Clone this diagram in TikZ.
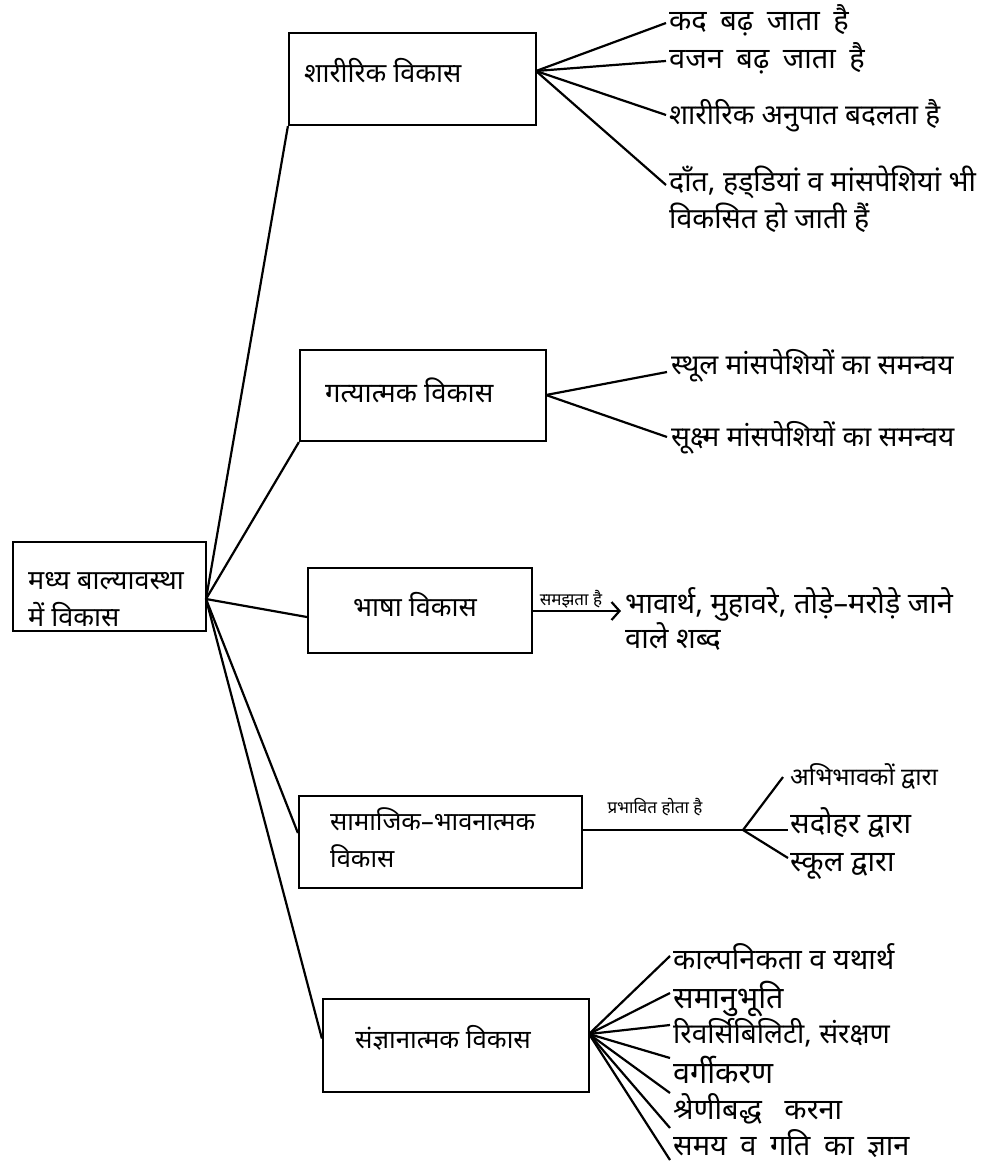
\documentclass[tikz,border=0pt]{standalone}
\usepackage{fontspec}
\newfontfamily\hindi[Script=Devanagari]{Noto Sans}
\usetikzlibrary{arrows.meta}
\newcommand\hsz[1]{\fontsize{#1}{#1}\selectfont}
\newcommand\xs{\hspace{6pt}}
\tikzset{
  box/.style={draw, line width=2.2pt, inner sep=0pt},
  conn/.style={line width=2.2pt},
  lbl/.style={font=\hindi\hsz{#1}, inner sep=0pt, anchor=west, text depth=0pt, text height={\the\dimexpr #1pt*68/100\relax}},
  lbl/.default=29,
  lbltwo/.style={inner sep=0pt, anchor=west, align=left},
}
\begin{document}
\begin{tikzpicture}[x=1pt,y=-1pt]
\useasboundingbox[fill=white] (0,0) rectangle (982,1165);

% boxes
\node[box, minimum width=193pt, minimum height=89pt] (root) at (109.5,586.5) {};
\node[box, minimum width=247pt, minimum height=92pt] (b1) at (412.5,79) {};
\node[box, minimum width=246pt, minimum height=91pt] (b2) at (423,395.5) {};
\node[box, minimum width=224pt, minimum height=85pt] (b3) at (420,610.5) {};
\node[box, minimum width=283pt, minimum height=92pt] (b4) at (440.5,842) {};
\node[box, minimum width=266pt, minimum height=93pt] (b5) at (456,1045.5) {};

% box texts
\node[lbltwo, font=\hindi\fontsize{27}{37}\selectfont] (troot) at (28,600) {मध्य बाल्यावस्था\\में विकास};
\node[lbl=27] (t1) at (304,73) {शारीरिक विकास};
\node[lbl=27.5] (t2) at (325,393) {गत्यात्मक विकास};
\node[lbl=27, anchor=center] (t3) at (415,607) {भाषा विकास};
\node[lbltwo, font=\hindi\fontsize{25.5}{37}\selectfont] (t4) at (330,837.5) {सामाजिक–भावनात्मक\\विकास};
\node[lbl=25.8, anchor=center] (t5) at (443,1040) {संज्ञानात्मक विकास};

% root connectors
\coordinate (rc) at (206,599);
\draw[conn] (rc) -- (b1.south west);
\draw[conn] (rc) -- (b2.south west);
\draw[conn] (rc) -- ([yshift=-6.5pt]b3.west);
\draw[conn] (rc) -- ([yshift=9pt]b4.west);
\draw[conn] (rc) -- ([yshift=7pt]b5.west);

% physical development
\coordinate (f1) at (536,71);
\coordinate (e11) at (666,23);
\coordinate (e12) at (666,61);
\coordinate (e13) at (666,115);
\coordinate (e14) at (666,185);
\node[lbl] (l11) at (669,21) {कद \xs बढ़ \xs जाता \xs है};
\node[lbl] (l12) at (669,59) {वजन \xs बढ़ \xs जाता \xs है};
\node[lbl=28] (l13) at (669,115) {शारीरिक अनुपात बदलता है};
\node[lbltwo, font=\hindi\fontsize{28.5}{37}\selectfont] (l14) at (669,199) {दाँत, हड्^^^^200cडियां व मांसपेशियां भी\\विकसित हो जाती हैं};
\foreach \e in {e11,e12,e13,e14} \draw[conn] (f1) -- (\e);

% motor development
\coordinate (f2) at (546,395);
\coordinate (e21) at (667,372);
\coordinate (e22) at (667,437);
\node[lbl=28] (l21) at (671,365) {स्थूल मांसपेशियों का समन्वय};
\node[lbl=28] (l22) at (671,437) {सूक्ष्म मांसपेशियों का समन्वय};
\draw[conn] (f2) -- (e21);
\draw[conn] (f2) -- (e22);

% language development
\node[lbltwo, font=\hindi\fontsize{29}{33}\selectfont] (l31) at (625,619) {भावार्थ, मुहावरे, तोड़े–मरोड़े जाने\\वाले शब्द};
\coordinate (a3) at (621,611);
\draw[conn, -{Straight Barb[length=8pt,width=18pt,line width=2.2pt]}] ([yshift=-0.5pt]b3.east) -- (a3);
\node[lbl=17, anchor=center] (s3) at (571,600) {समझता है};

% social-emotional development
\coordinate (f4) at (743,830);
\draw[conn] ([yshift=12pt]b4.east) -- (f4);
\node[lbl=17, anchor=center] (s4) at (655,808) {प्रभावित होता है};
\coordinate (e41) at (783,777);
\coordinate (e42) at (788,830);
\coordinate (e43) at (788,858);
\node[lbl=24.5] (l41) at (790,777) {अभिभावकों द्वारा};
\node[lbl] (l42) at (790,824) {सदोहर द्वारा};
\node[lbl] (l43) at (790,862) {स्कूल द्वारा};
\foreach \e in {e41,e42,e43} \draw[conn] (f4) -- (\e);

% cognitive development
\coordinate (f5) at (589,1034);
\coordinate (e51) at (670,956);
\coordinate (e52) at (670,993);
\coordinate (e53) at (670,1025);
\coordinate (e54) at (670,1058);
\coordinate (e55) at (670,1093);
\coordinate (e56) at (670,1128);
\coordinate (e57) at (670,1160);
\node[lbl] (l51) at (673,960) {काल्पनिकता व यथार्थ};
\node[lbl=30.5] (l52) at (673,998) {समानुभूति};
\node[lbl=28] (l53) at (673,1034) {रिवर्सिबिलिटी, संरक्षण};
\node[lbl=30.5] (l54) at (673,1073) {वर्गीकरण};
\node[lbl] (l55) at (673,1110) {श्रेणीबद्ध \hspace{15pt}करना};
\node[lbl] (l56) at (673,1146) {समय \xs व \xs गति \xs का \xs ज्ञान};
\foreach \e in {e51,e52,e53,e54,e55,e56,e57} \draw[conn] (f5) -- (\e);
\end{tikzpicture}
\end{document}
